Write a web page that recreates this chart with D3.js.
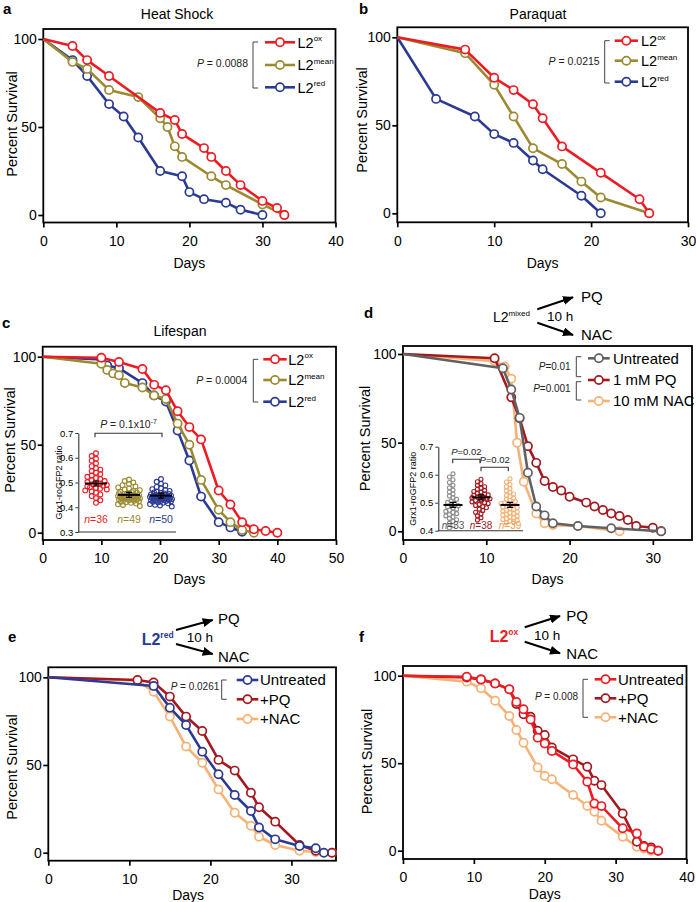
<!DOCTYPE html>
<html><head><meta charset="utf-8">
<script src="https://cdn.jsdelivr.net/npm/d3@7"></script>
<style>body{margin:0;background:#fff}svg{display:block}</style>
</head><body><svg id="chart" width="696" height="902"></svg>
<script>
// ---------------- DATA ----------------
// Panel a: Heat Shock  [day, percent survival]
const heatOx   = [[0,100],[4,96],[6,88],[9,79],[16,58],[18,54],[19,46],[22,38],[23,33],[25,25],[27,17],[30,8],[32,4],[33,0]];
const heatMean = [[0,100],[4,87],[6,83],[9,71],[13,67],[16,55],[17,50],[18,39],[19,33],[23,22],[25,17],[30,6],[33,0]];
const heatRed  = [[0,100],[4,88],[6,79],[9,63],[11,56],[13,44],[16,25],[19,22],[20,13],[22,9],[25,7],[27,3],[30,0]];
// Panel b: Paraquat
const pqOx   = [[0,100],[7,93],[10,77],[12,70],[14,62],[15,54],[17,38],[21,23],[25,8],[26,0]];
const pqMean = [[0,100],[7,91],[10,73],[12,55],[14,37],[17,28],[19,18],[21,9],[26,0]];
const pqRed  = [[0,100],[4,65],[8,55],[10,45],[12,40],[14,30],[15,25],[19,10],[21,0]];
// Panel c: Lifespan
const lifeOx   = [[0,100],[10,99.4],[13,97],[17,93],[19,84],[21,81],[23,69],[25,60],[27,53],[30,24],[32,16],[34,6],[36,2],[38,1],[40,0]];
const lifeMean = [[0,100],[10,96],[11,92.5],[12,90.5],[13,89.5],[14,85],[17,82.5],[19,78],[21,76],[23,62],[25,50],[27,30],[30,13],[32,6],[34,1.5],[36,0]];
const lifeRed  = [[0,100],[10,98.5],[11,95],[13,93.5],[17,85],[19,78],[21,74.5],[23,58],[25,41],[27,20.5],[30,6],[32,3],[34,0.5]];
// Panel c inset: Grx1-roGFP2 ratio
const cInsetN = [36,49,50];
const cInsetMeans = [0.496,0.450,0.447];
const cRatioOx = [0.618,0.607,0.596,0.588,0.578,0.566,0.558,0.552,0.546,0.540,0.534,0.528,0.523,0.518,0.514,0.510,0.506,0.502,0.499,0.496,0.493,0.490,0.487,0.484,0.481,0.478,0.475,0.472,0.468,0.464,0.459,0.452,0.445,0.437,0.428,0.418];
const cRatioMean = [0.512,0.506,0.500,0.494,0.489,0.484,0.480,0.476,0.472,0.469,0.466,0.463,0.461,0.459,0.457,0.455,0.453,0.451,0.450,0.449,0.448,0.447,0.446,0.445,0.444,0.443,0.442,0.441,0.440,0.439,0.438,0.437,0.436,0.435,0.434,0.433,0.432,0.431,0.430,0.428,0.426,0.424,0.422,0.420,0.418,0.415,0.412,0.409,0.405];
const cRatioRed = [0.514,0.503,0.495,0.488,0.482,0.477,0.473,0.469,0.466,0.463,0.460,0.458,0.456,0.454,0.452,0.450,0.449,0.448,0.447,0.446,0.445,0.444,0.443,0.442,0.441,0.440,0.439,0.438,0.437,0.436,0.435,0.434,0.433,0.432,0.431,0.430,0.429,0.428,0.427,0.426,0.425,0.424,0.422,0.420,0.418,0.416,0.413,0.410,0.407,0.403];
// Panel d: L2mixed treatments
const mixUntreated = [[0,100],[12,92],[13,80],[14,64],[15,33],[16,14],[17,9],[18,4.5],[21,3],[25,1.7],[31,0]];
const mixPQ  = [[0,100],[11,97.6],[13,75.6],[14,63.7],[15,48],[16,38.6],[17,28.4],[18,25],[19,23],[20,19.5],[22,16.2],[23,14],[24,12],[25,10],[26,8.6],[27,6.4],[28,3],[30,2],[31,0]];
const mixNAC = [[0,100],[11,96],[12.2,93],[13,86],[13.7,50],[14.5,28],[16,10],[17,4.5],[18,3.5],[21,3],[26,0]];
// Panel d inset
const dInsetN = [33,38,39];
const dInsetMeans = [0.492,0.519,0.492];
const dRatioUntreated = [0.603,0.592,0.582,0.572,0.562,0.553,0.545,0.538,0.531,0.524,0.518,0.512,0.506,0.501,0.497,0.493,0.489,0.485,0.481,0.477,0.473,0.469,0.465,0.461,0.457,0.453,0.449,0.444,0.439,0.433,0.426,0.418,0.410];
const dRatioPQ = [0.584,0.575,0.568,0.562,0.557,0.552,0.548,0.544,0.540,0.537,0.534,0.531,0.528,0.526,0.524,0.522,0.520,0.518,0.516,0.514,0.512,0.510,0.508,0.506,0.503,0.500,0.497,0.494,0.490,0.486,0.482,0.477,0.472,0.466,0.460,0.453,0.446,0.438];
const dRatioNAC = [0.585,0.574,0.565,0.557,0.550,0.543,0.537,0.531,0.526,0.521,0.516,0.512,0.508,0.504,0.500,0.497,0.494,0.491,0.488,0.485,0.482,0.479,0.476,0.473,0.470,0.467,0.464,0.461,0.458,0.455,0.452,0.449,0.446,0.443,0.440,0.437,0.434,0.431,0.428];
// Panel e: L2red treatments
const redUntreated = [[0,100],[13,95],[15,82.7],[17,72.8],[19,57.6],[21,44.7],[23,32.9],[25,23.8],[26,14.4],[28,7.6],[31,3.8],[33,2.5],[34,0]];
const redPQ  = [[0,100],[11,98.5],[13,97],[15,89],[17,77.6],[19,69.4],[21,52.9],[23,46.8],[25,34.2],[26,25.9],[28,17.7],[31,4.4],[33,1.1],[35,0]];
const redNAC = [[0,100],[11,98],[13,91.8],[15,77.6],[17,60.5],[19,51.3],[21,36.1],[23,22.8],[25,15.4],[26,9.1],[28,4.4],[31,1.1],[33,0.4],[35,0]];
// Panel f: L2ox treatments
const oxUntreated = [[0,100],[9,99.4],[11,97.9],[13,95.6],[15,92.2],[16,85],[17,80.8],[18,75],[19,64.6],[20,61.3],[21,57],[24,49.3],[26,39.4],[27,27],[28,25.5],[31,12.8],[33,9.9],[34,2.3],[35,0.8],[36,0]];
const oxPQ  = [[0,100],[9,99],[11,97.9],[13,95.6],[15,92.2],[16,83.8],[17,78],[18,76.6],[19,68.6],[20,66.1],[21,59],[24,52.2],[26,48],[27,40],[28,37.5],[31,21.3],[33,5.1],[34,2.7],[35,1.9],[36,0]];
const oxNAC = [[0,100],[9,96.6],[11,92.8],[13,85.7],[15,77],[16,69],[17,61.7],[19,47.6],[20,42.7],[21,40.8],[24,31.8],[26,25.5],[27,22.3],[28,17.1],[31,8],[33,2.3],[34,1.3],[35,0]];

const yTicks = [0,50,100];
const insetTicksC = [0.3,0.4,0.5,0.6,0.7];
const insetTicksD = [0.4,0.5,0.6,0.7];

// ---------------- STYLE ----------------
const FONT = 'Arial, "Liberation Sans", Helvetica, sans-serif';
const C = {red:"#ed1c24", olive:"#9b8a32", blue:"#2b3a92", dred:"#a3191f", gray:"#606163", orange:"#f5b277", lgray:"#8e8e8e"};

const svg = d3.select("#chart").attr("font-family", FONT);
const defs = svg.append("defs");
defs.append("marker").attr("id","arr").attr("markerUnits","userSpaceOnUse")
  .attr("markerWidth",11).attr("markerHeight",9).attr("refX",10).attr("refY",4.5).attr("orient","auto")
  .append("path").attr("d","M0,0 L11,4.5 L0,9 Z").attr("fill","#000");

function txt(g, x, y, s, size, opts={}) {
  const t = g.append("text").attr("x",x).attr("y",y).attr("font-size",size).attr("fill",opts.fill||"#000")
    .attr("text-anchor",opts.anchor||"start");
  if (opts.weight) t.attr("font-weight",opts.weight);
  if (s !== null) t.text(s);
  return t;
}
function pText(g, x, y, rest, size, anchor) {
  const t = txt(g, x, y, null, size, {anchor: anchor||"end", fill:"#222"});
  t.append("tspan").attr("font-style","italic").text("P");
  t.append("tspan").text(rest);
  return t;
}
function bracket(g, x, y1, y2, tick) {
  g.append("path").attr("d",`M${x+tick},${y1}H${x}V${y2}H${x+tick}`).attr("fill","none").attr("stroke","#444").attr("stroke-width",1);
}

function survivalPanel(o) {
  const g = svg.append("g");
  const x = d3.scaleLinear().domain([0,o.xMax]).range([o.left,o.right]);
  const y = d3.scaleLinear().domain([0,100]).range([o.y0,o.y100]);
  const xa = g.append("g").attr("transform",`translate(0,${o.bottom})`)
    .call(d3.axisBottom(x).tickValues(o.xTicks).tickSize(5).tickPadding(8.5));
  const ya = g.append("g").attr("transform",`translate(${o.left},0)`)
    .call(d3.axisLeft(y).tickValues(yTicks).tickSize(5).tickPadding(1.5));
  [xa,ya].forEach(a=>{
    a.select(".domain").remove();
    a.selectAll("line").attr("stroke","#000").attr("stroke-width",1.7);
    a.selectAll("text").attr("font-size",14).attr("font-family",FONT).attr("fill","#000");
  });
  g.append("rect").attr("x",o.left).attr("y",o.top).attr("width",o.right-o.left).attr("height",o.bottom-o.top)
    .attr("fill","none").attr("stroke","#000").attr("stroke-width",1.8);
  const line = d3.line().x(d=>x(d[0])).y(d=>y(d[1]));
  o.series.forEach(s=>{
    g.append("path").datum(s.data).attr("d",line).attr("fill","none").attr("stroke",s.color)
      .attr("stroke-width",2.6).attr("stroke-linejoin","round");
    g.selectAll(null).data(s.data.filter(d=>d[0]>0)).join("circle")
      .attr("cx",d=>x(d[0])).attr("cy",d=>y(d[1])).attr("r",4.1)
      .attr("fill","#fff").attr("stroke",s.color).attr("stroke-width",1.7);
  });
  // axis titles
  txt(g, (o.left+o.right)/2 + (o.daysDx||0), o.bottom + o.daysDy, "Days", 14, {anchor:"middle"});
  g.append("text").attr("transform",`translate(${o.ytX},${o.ytY}) rotate(-90)`).attr("text-anchor","middle")
    .attr("font-size",14.5).text("Percent Survival");
  // legend
  const L = o.legend;
  L.rows.forEach((r,i)=>{
    g.append("line").attr("x1",L.lx1).attr("x2",L.lx2).attr("y1",r.y).attr("y2",r.y).attr("stroke",r.color).attr("stroke-width",2.6);
    g.append("circle").attr("cx",(L.lx1+L.lx2)/2).attr("cy",r.y).attr("r",4.1).attr("fill","#fff").attr("stroke",r.color).attr("stroke-width",1.7);
    const t = txt(g, L.tx, r.y + L.size*0.36, null, L.size);
    t.append("tspan").text(r.label);
    if (r.sup) t.append("tspan").attr("font-size",8).attr("dy",-L.size*0.42).text(r.sup);
  });
  return {g,x,y};
}

function swarm(values, cx, yS, r, maxHalf) {
  const pts = [];
  values.forEach((v,i)=>{
    const py = yS(v);
    let off = null;
    for (let k=0;k<60;k++){
      const o = (k%2===1?-1:1)*Math.ceil(k/2)*r*0.9;
      if (Math.abs(o)>maxHalf) break;
      if (pts.every(p=>(p.x-(cx+o))**2+(p.y-py)**2 >= (1.8*r)**2)) { off=o; break; }
    }
    if (off===null) off = ((i*5)%(2*Math.round(maxHalf)+1)) - Math.round(maxHalf);
    pts.push({x:cx+off,y:py});
  });
  return pts;
}

function inset(o) {
  const g = svg.append("g");
  const y = d3.scaleLinear().domain([o.yMin,0.7]).range([o.yBottom,o.yTop]);
  const ya = g.append("g").attr("transform",`translate(${o.axX},0)`)
    .call(d3.axisLeft(y).tickValues(o.ticks).tickSize(3).tickSizeOuter(0).tickPadding(2).tickFormat(d3.format(".1f")));
  ya.select(".domain").attr("stroke","#333").attr("stroke-width",1.1);
  ya.selectAll("line").attr("stroke","#333");
  ya.selectAll("text").attr("font-size",9.5).attr("font-family",FONT).attr("fill","#000");
  g.append("line").attr("x1",o.axX).attr("x2",o.axEnd).attr("y1",o.yBottom).attr("y2",o.yBottom).attr("stroke","#333").attr("stroke-width",1.1);
  g.append("text").attr("transform",`translate(${o.labX},${(o.yTop+o.yBottom)/2}) rotate(-90)`).attr("text-anchor","middle")
    .attr("font-size",9).text("Grx1-roGFP2 ratio");
  o.groups.forEach((gr,i)=>{
    const pts = swarm(gr.values, gr.cx, y, o.r, o.half);
    g.selectAll(null).data(pts).join("circle").attr("cx",d=>d.x).attr("cy",d=>d.y).attr("r",o.r)
      .attr("fill","none").attr("stroke",gr.dot).attr("stroke-width",1.1);
    const m = y(o.means[i]);
    g.append("line").attr("x1",gr.cx-o.half).attr("x2",gr.cx+o.half).attr("y1",m).attr("y2",m).attr("stroke","#000").attr("stroke-width",2);
    g.append("path").attr("d",`M${gr.cx-3},${m-2.5}H${gr.cx+3}M${gr.cx},${m-2.5}V${m+2.5}M${gr.cx-3},${m+2.5}H${gr.cx+3}`)
      .attr("stroke","#000").attr("stroke-width",1.2).attr("fill","none");
    const t = txt(g, gr.cx, o.nY, null, o.nSize, {anchor:"middle", fill:gr.ncol});
    t.append("tspan").attr("font-style","italic").text("n");
    t.append("tspan").text("=" + o.n[i]);
  });
  o.pbars.forEach(p=>{
    g.append("path").attr("d",`M${p.x1},${p.y+4}V${p.y}H${p.x2}V${p.y+4}`).attr("fill","none").attr("stroke","#333").attr("stroke-width",1.1);
    const t = pText(g, (p.x1+p.x2)/2, p.ty, p.text, o.pSize, "middle");
    if (p.sup) t.append("tspan").attr("font-size",7).attr("dy",-4).text(p.sup);
  });
}

function treatHeader(o) {
  const g = svg.append("g");
  const t = txt(g, o.sx, o.sy, null, o.ssize, {fill:o.scol, weight:o.sw});
  t.append("tspan").text("L2");
  t.append("tspan").attr("font-size",o.supSize).attr("dy",-o.ssize*0.42).text(o.sup);
  g.append("line").attr("x1",o.ax1).attr("y1",o.ay1).attr("x2",o.ax2).attr("y2",o.ay2).attr("stroke","#000").attr("stroke-width",2).attr("marker-end","url(#arr)");
  g.append("line").attr("x1",o.ax1).attr("y1",o.by1).attr("x2",o.ax2).attr("y2",o.by2).attr("stroke","#000").attr("stroke-width",2).attr("marker-end","url(#arr)");
  txt(g, o.hx, o.hy, "10 h", 13.5);
  txt(g, o.px, o.pqy, "PQ", 15);
  txt(g, o.px, o.nacy, "NAC", 15);
}

// Panel letters & titles
[["a",3,13.5],["b",359,13.5],["c",2,328],["d",364,318],["e",8,642],["f",359,642]].forEach(l=>txt(svg,l[1],l[2],l[0],15,{weight:"bold"}));
txt(svg,177,18.5,"Heat Shock",14,{anchor:"middle"});
txt(svg,538,18.5,"Paraquat",14,{anchor:"middle"});
txt(svg,180,335.5,"Lifespan",14,{anchor:"middle"});

// ---- a ----
let P = survivalPanel({left:43.3,right:335.5,top:29,bottom:222.5,y0:215,y100:39,xMax:40,xTicks:[0,10,20,30,40],
  daysDy:45.5, ytX:16.7, ytY:124,
  series:[{data:heatRed,color:C.blue},{data:heatMean,color:C.olive},{data:heatOx,color:C.red}],
  legend:{lx1:265,lx2:295,tx:297.5,size:14.5,rows:[{y:42.3,label:"L2",sup:"ox",color:C.red},{y:65,label:"L2",sup:"mean",color:C.olive},{y:87.3,label:"L2",sup:"red",color:C.blue}]}});
bracket(P.g,253,42,88,5); pText(P.g,248,67," = 0.0088",10.5);

// ---- b ----
P = survivalPanel({left:397.3,right:688,top:27.3,bottom:222.3,y0:213.3,y100:37.3,xMax:30,xTicks:[0,10,20,30],
  daysDy:45.5, ytX:366.5, ytY:120,
  series:[{data:pqRed,color:C.blue},{data:pqMean,color:C.olive},{data:pqOx,color:C.red}],
  legend:{lx1:614.7,lx2:638,tx:641,size:14.5,rows:[{y:40.7,label:"L2",sup:"ox",color:C.red},{y:60.7,label:"L2",sup:"mean",color:C.olive},{y:81.7,label:"L2",sup:"red",color:C.blue}]}});
bracket(P.g,604.7,40.7,83,5); pText(P.g,599.7,65," = 0.0215",10.5);

// ---- c ----
P = survivalPanel({left:42.7,right:336,top:346.7,bottom:540,y0:532.7,y100:356.7,xMax:50,xTicks:[0,10,20,30,40,50],
  daysDy:44, ytX:15, ytY:440,
  series:[{data:lifeRed,color:C.blue},{data:lifeMean,color:C.olive},{data:lifeOx,color:C.red}],
  legend:{lx1:263.3,lx2:286.7,tx:288.3,size:14.5,rows:[{y:359.3,label:"L2",sup:"ox",color:C.red},{y:380,label:"L2",sup:"mean",color:C.olive},{y:401.7,label:"L2",sup:"red",color:C.blue}]}});
bracket(P.g,253.3,359.3,402,5); pText(P.g,247.3,384," = 0.0004",10.5);
inset({yMin:0.3,yBottom:532,yTop:433,axX:78.3,axEnd:176,ticks:insetTicksC,labX:62,r:2.4,half:11,nY:523,nSize:10.5,pSize:10.5,
  means:cInsetMeans,n:cInsetN,
  groups:[{values:cRatioOx,cx:96,dot:C.red,ncol:C.red},{values:cRatioMean,cx:129,dot:C.olive,ncol:C.olive},{values:cRatioRed,cx:161,dot:C.blue,ncol:C.blue}],
  pbars:[{x1:95,x2:162,y:433.3,ty:428,text:" = 0.1x10",sup:"-7"}]});

// ---- d ----
treatHeader({sx:493,sy:322,ssize:14,scol:"#000",sw:"normal",sup:"mixed",supSize:8,
  ax1:537.3,ay1:309.3,ax2:573,ay2:297.3,by1:322.7,by2:335,hx:547,hy:321,px:581,pqy:302,nacy:340});
P = survivalPanel({left:403,right:692,top:346,bottom:540,y0:531.3,y100:354,xMax:34.7,xTicks:[0,10,20,30],
  daysDx:0, daysDy:44, ytX:369.7, ytY:438.5,
  series:[{data:mixNAC,color:C.orange},{data:mixPQ,color:C.dred},{data:mixUntreated,color:C.gray}],
  legend:{lx1:588,lx2:609.7,tx:613,size:15,rows:[{y:358.3,label:"Untreated",color:C.gray},{y:380,label:"1 mM PQ",color:C.dred},{y:401,label:"10 mM NAC",color:C.orange}]}});
bracket(P.g,576.3,356.7,376.7,5); bracket(P.g,576.3,381.7,400,5);
pText(P.g,570.7,370,"=0.01",10); pText(P.g,570.7,392,"=0.001",10);
inset({yMin:0.4,yBottom:530.7,yTop:446.7,axX:438.3,axEnd:523,ticks:insetTicksD,labX:416,r:2,half:9.5,nY:529,nSize:10,pSize:9.5,
  means:dInsetMeans,n:dInsetN,
  groups:[{values:dRatioUntreated,cx:453,dot:C.lgray,ncol:"#555"},{values:dRatioPQ,cx:481,dot:C.dred,ncol:C.dred},{values:dRatioNAC,cx:510,dot:C.orange,ncol:"#f29b4c"}],
  pbars:[{x1:452.7,x2:480,y:459.3,ty:454.5,text:"=0.02"},{x1:481,x2:508.3,y:467.3,ty:462.8,text:"=0.02"}]});

// ---- e ----
treatHeader({sx:141.7,sy:645,ssize:16,scol:C.blue,sw:"bold",sup:"red",supSize:8.5,
  ax1:176,ay1:630,ax2:212.7,ay2:620,by1:644,by2:654,hx:186.7,hy:641.5,px:218,pqy:624,nacy:662});
P = survivalPanel({left:48.3,right:336,top:667.3,bottom:860.7,y0:852.7,y100:677.3,xMax:35.5,xTicks:[0,10,20,30],
  daysDx:-4, daysDy:39.5, ytX:16.7, ytY:767,
  series:[{data:redNAC,color:C.orange},{data:redPQ,color:C.dred},{data:redUntreated,color:C.blue}],
  legend:{lx1:236.7,lx2:258.3,tx:260,size:15,rows:[{y:680,label:"Untreated",color:C.blue},{y:699.3,label:"+PQ",color:C.dred},{y:719,label:"+NAC",color:C.orange}]}});
bracket(P.g,221.7,680,699.3,5); pText(P.g,219.3,689.7," = 0.0261",10);

// ---- f ----
treatHeader({sx:489.7,sy:642,ssize:16,scol:C.red,sw:"bold",sup:"ox",supSize:8.5,
  ax1:524.7,ay1:627.3,ax2:560,ay2:616,by1:641.7,by2:653.3,hx:534,hy:640,px:566.3,pqy:621,nacy:658.5});
P = survivalPanel({left:403,right:686.5,top:666,bottom:859,y0:850.7,y100:675.7,xMax:40,xTicks:[0,10,20,30,40],
  daysDy:40, ytX:372, ytY:761.5,
  series:[{data:oxNAC,color:C.orange},{data:oxPQ,color:C.dred},{data:oxUntreated,color:C.red}],
  legend:{lx1:594.7,lx2:616.3,tx:618,size:15,rows:[{y:679.3,label:"Untreated",color:C.red},{y:698.3,label:"+PQ",color:C.dred},{y:717.3,label:"+NAC",color:C.orange}]}});
bracket(P.g,583,679.3,717.3,5); pText(P.g,578,700," = 0.008",10);
</script></body></html>
